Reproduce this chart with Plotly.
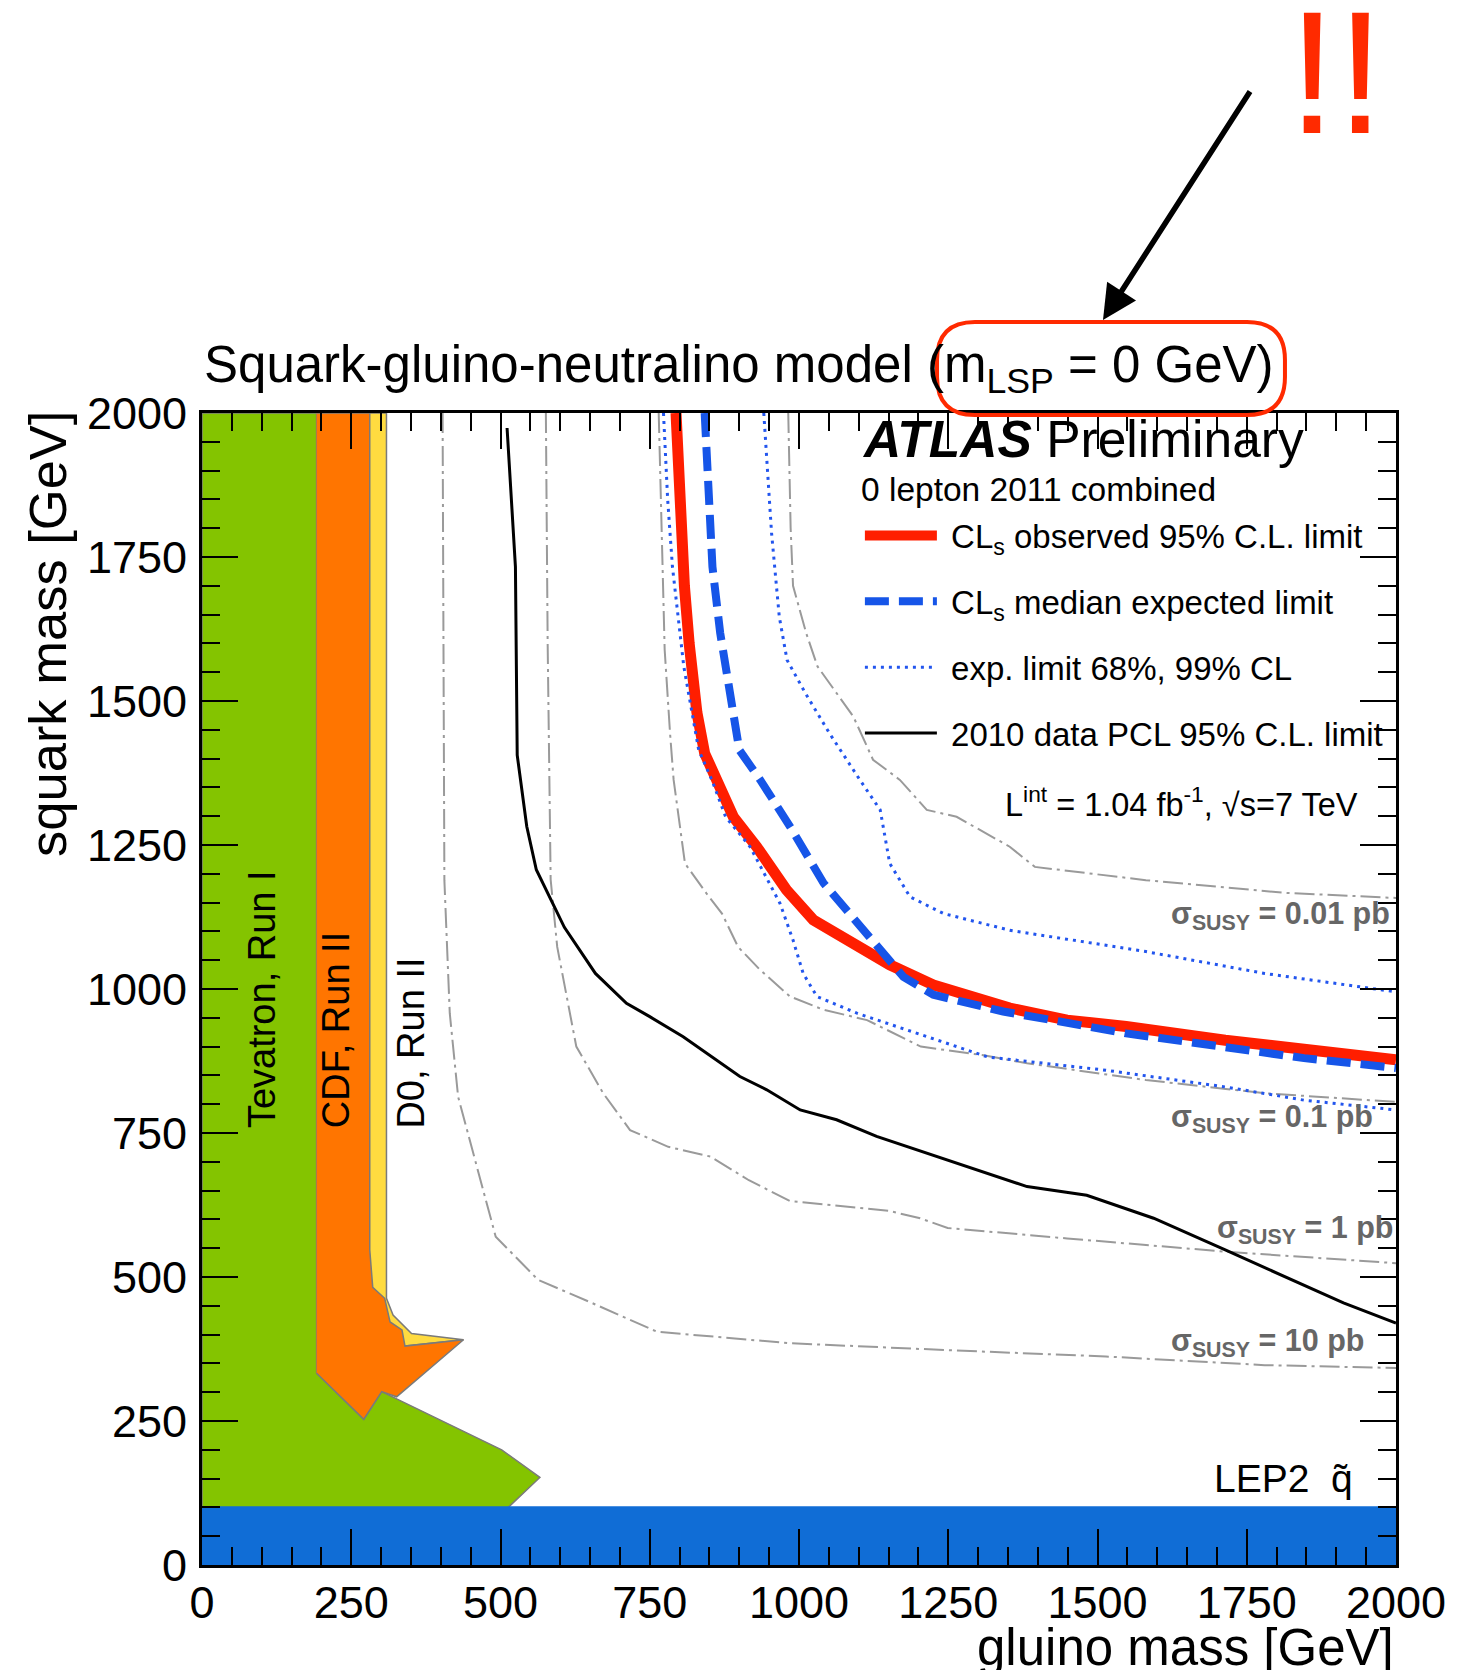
import plotly.graph_objects as go

FONT = "Liberation Sans, Arial, Helvetica, sans-serif"

# ---------------- data (gluino mass, squark mass) in GeV ----------------
obs_g = [794, 800, 808, 816, 829, 842, 862, 890, 929, 979, 1024, 1107, 1152, 1225, 1353, 1449, 1548, 1714, 1846, 2000]
obs_q = [2000, 1850, 1700, 1600, 1480, 1409, 1363, 1299, 1247, 1172, 1120, 1068, 1042, 1007, 967, 946, 935, 911, 894, 877]

exp_g = [842, 848, 855, 868, 885, 900, 935, 985, 1041, 1085, 1141, 1175, 1225, 1342, 1548, 1714, 1846, 2000]
exp_q = [2000, 1880, 1733, 1618, 1500, 1415, 1363, 1282, 1184, 1131, 1062, 1021, 990, 961, 923, 898, 880, 863]

exp_lo_g = [773, 780, 788, 807, 832, 854, 877, 918, 968, 990, 1007, 1030, 1097, 1197, 1316, 1514, 1714, 1846, 2000]
exp_lo_q = [2000, 1850, 1733, 1560, 1415, 1363, 1299, 1247, 1149, 1085, 1027, 987, 958, 923, 882, 859, 830, 807, 790]

exp_hi_g = [941, 947, 954, 967, 980, 1011, 1051, 1102, 1136, 1152, 1186, 1242, 1353, 1581, 1780, 2000]
exp_hi_q = [2000, 1900, 1792, 1646, 1571, 1513, 1444, 1363, 1311, 1218, 1160, 1131, 1102, 1065, 1027, 995]

pcl2010_g = [511, 518, 525, 528, 544, 560, 607, 659, 711, 750, 806, 901, 946, 1002, 1063, 1130, 1249, 1382, 1482, 1594, 1714, 1912, 2000]
pcl2010_q = [1974, 1850, 1733, 1406, 1282, 1207, 1107, 1027, 975, 952, 917, 848, 825, 790, 773, 744, 703, 657, 642, 602, 547, 455, 420]

xs001_g = [982, 986, 990, 1012, 1031, 1091, 1124, 1169, 1214, 1264, 1353, 1395, 1581, 1813, 2000]
xs001_q = [2000, 1800, 1700, 1618, 1560, 1473, 1398, 1363, 1311, 1299, 1247, 1212, 1189, 1167, 1158]

xs01_g = [765, 770, 775, 784, 790, 809, 845, 871, 898, 935, 985, 1041, 1114, 1204, 1309, 1382, 1581, 1780, 2000]
xs01_q = [2000, 1800, 1589, 1444, 1363, 1218, 1166, 1131, 1073, 1033, 987, 964, 946, 900, 885, 871, 842, 819, 804]

xs1_g = [576, 579, 584, 595, 627, 672, 717, 781, 852, 916, 985, 1150, 1203, 1249, 1449, 1714, 2000]
xs1_q = [2000, 1600, 1190, 1073, 900, 819, 755, 726, 709, 668, 632, 615, 602, 585, 567, 544, 524]

xs10_g = [403, 405, 406, 415, 429, 474, 492, 563, 653, 762, 985, 1249, 1514, 1780, 2000]
xs10_q = [2000, 1600, 1189, 958, 813, 639, 570, 495, 455, 405, 385, 373, 362, 347, 342]

tev1_g = [0, 0, 192, 192, 271, 301, 502, 566, 513]
tev1_q = [100, 2000, 2000, 333, 253, 301, 200, 152, 100]

d0_g = [281, 309, 309, 320, 351, 438, 340, 281]
d0_q = [2000, 2000, 463, 434, 402, 391, 380, 400]

cdf_g = [192, 281, 281, 286, 306, 315, 335, 340, 438, 326, 301, 271, 192]
cdf_q = [2000, 2000, 547, 482, 463, 422, 408, 380, 391, 292, 301, 253, 333]

lep2_g = [0, 2000, 2000, 0]
lep2_q = [0, 0, 102, 102]

tick_vals = [0, 250, 500, 750, 1000, 1250, 1500, 1750, 2000]
tick_text = [str(v) for v in tick_vals]

GREY_DASHDOT = "20px,5px,3px,5px"
NB = "\u00a0"

fig = go.Figure()

# exclusion regions
fig.add_trace(go.Scatter(x=tev1_g, y=tev1_q, fill="toself", fillcolor="#84c400",
                         mode="lines", line=dict(color="#7a7a7a", width=1.5),
                         showlegend=False, hoverinfo="skip"))
fig.add_trace(go.Scatter(x=d0_g, y=d0_q, fill="toself", fillcolor="#ffdb40",
                         mode="lines", line=dict(color="#7a7a7a", width=1.5),
                         showlegend=False, hoverinfo="skip"))
fig.add_trace(go.Scatter(x=cdf_g, y=cdf_q, fill="toself", fillcolor="#ff7500",
                         mode="lines", line=dict(color="#7a7a7a", width=1.5),
                         showlegend=False, hoverinfo="skip"))
fig.add_trace(go.Scatter(x=lep2_g, y=lep2_q, fill="toself", fillcolor="#106dd6",
                         mode="lines", line=dict(color="#106dd6", width=0),
                         showlegend=False, hoverinfo="skip"))

# cross-section contours
for gx, qy in [(xs10_g, xs10_q), (xs1_g, xs1_q), (xs01_g, xs01_q), (xs001_g, xs001_q)]:
    fig.add_trace(go.Scatter(x=gx, y=qy, mode="lines",
                             line=dict(color="#9a9a9a", width=2, dash=GREY_DASHDOT),
                             showlegend=False, hoverinfo="skip"))

# limits
fig.add_trace(go.Scatter(x=exp_hi_g, y=exp_hi_q, mode="lines", legendgroup="c",
                         line=dict(color="#2255ee", width=3, dash="3px,5px"),
                         showlegend=False))
fig.add_trace(go.Scatter(x=obs_g, y=obs_q, mode="lines", legendgroup="a",
                         line=dict(color="#ff1e00", width=11),
                         name=NB + "CL<sub>s</sub> observed 95% C.L. limit"))
fig.add_trace(go.Scatter(x=exp_g, y=exp_q, mode="lines", legendgroup="b",
                         line=dict(color="#1655e8", width=8, dash="24px,10px"),
                         name=NB + "CL<sub>s</sub> median expected limit"))
fig.add_trace(go.Scatter(x=exp_lo_g, y=exp_lo_q, mode="lines", legendgroup="c",
                         line=dict(color="#2255ee", width=3, dash="3px,5px"),
                         name=NB + "exp. limit 68%, 99% CL"))
fig.add_trace(go.Scatter(x=pcl2010_g, y=pcl2010_q, mode="lines", legendgroup="d",
                         line=dict(color="black", width=3),
                         name=NB + "2010 data PCL 95% C.L. limit"))

def axis(standoff):
    return dict(
        range=[0, 2000], tickvals=tick_vals, ticktext=tick_text,
        ticks="inside", ticklen=36, tickwidth=2, tickcolor="black",
        minor=dict(ticks="inside", ticklen=18, tickwidth=2, tickcolor="black", dtick=50),
        showline=True, linecolor="black", linewidth=3, mirror="ticks",
        showgrid=False, zeroline=False, layer="above traces",
        ticklabelstandoff=standoff,
        tickfont=dict(family=FONT, size=45, color="black"),
    )

fig.update_layout(
    width=1475, height=1670,
    margin=dict(l=202, r=79, t=413, b=105),
    paper_bgcolor="white", plot_bgcolor="white",
    font=dict(family=FONT, color="black"),
    xaxis=axis(-4),
    yaxis=axis(3),
    legend=dict(x=0.551, y=0.918, xanchor="left", yanchor="top",
                bgcolor="rgba(0,0,0,0)", borderwidth=0,
                font=dict(family=FONT, size=33, color="black"),
                itemwidth=72, tracegroupgap=20, traceorder="grouped"),
)

ann = []
# title
ann.append(dict(xref="paper", yref="paper", x=0.0, y=1.0087, xanchor="left", yanchor="bottom",
                text="Squark-gluino-neutralino model (m<sub>LSP</sub> = 0 GeV)",
                showarrow=False, font=dict(family=FONT, size=51, color="black")))
# axis titles
ann.append(dict(xref="paper", yref="paper", x=1.0, y=-0.072, xanchor="right", yanchor="middle",
                text="gluino mass [GeV]", showarrow=False,
                font=dict(family=FONT, size=51, color="black")))
ann.append(dict(xref="paper", yref="paper", x=-0.130, y=0.808, xanchor="center", yanchor="middle",
                text="squark mass [GeV]", textangle=-90, showarrow=False,
                font=dict(family=FONT, size=52.5, color="black")))
# ATLAS labels
ann.append(dict(xref="paper", yref="paper", x=0.551, y=0.9774, xanchor="left", yanchor="middle",
                text="<b><i>ATLAS</i></b> Preliminary", showarrow=False,
                font=dict(family=FONT, size=51.5, color="black")))
ann.append(dict(xref="paper", yref="paper", x=0.550, y=0.9335, xanchor="left", yanchor="middle",
                text="0 lepton 2011 combined", showarrow=False,
                font=dict(family=FONT, size=33.5, color="black")))
ann.append(dict(xref="paper", yref="paper", x=0.9698, y=0.6624, xanchor="right", yanchor="middle",
                text="L<sup>int</sup> = 1.04 fb<sup>-1</sup>, \u221as=7 TeV", showarrow=False,
                font=dict(family=FONT, size=32.5, color="black")))
# cross-section labels
for xv, yv, t in [(1619, 1128, "0.01 pb"), (1619, 776, "0.1 pb"), (1697, 582, "1 pb"), (1619, 387, "10 pb")]:
    ann.append(dict(x=xv, y=yv, xanchor="left", yanchor="middle",
                    text="<b>\u03c3<sub>SUSY</sub> = " + t + "</b>", showarrow=False,
                    font=dict(family=FONT, size=30.5, color="#666666")))
# experiment labels
for xv, t in [(100.5, "Tevatron, Run I"), (224.5, "CDF, Run II"), (350, "D0, Run II")]:
    ann.append(dict(x=xv, y=755, xanchor="center", yanchor="bottom", textangle=-90,
                    text=t, showarrow=False, font=dict(family=FONT, size=38, color="black")))
ann.append(dict(x=1931, y=151, xanchor="right", yanchor="middle",
                text="LEP2  q\u0303", showarrow=False,
                font=dict(family=FONT, size=39, color="black")))
# arrow and exclamation marks
ann.append(dict(xref="paper", yref="paper", x=0.7546, y=1.0807, text="",
                showarrow=True, ax=148, ay=-230, arrowhead=2, arrowsize=1.25,
                arrowwidth=5.5, arrowcolor="black", standoff=0))
ann.append(dict(xref="paper", yref="paper", x=(1336 - 202) / 1194, y=1.2955,
                xanchor="center", yanchor="middle", text="!!", showarrow=False,
                font=dict(family=FONT, size=174, color="#ff2a00")))
fig.update_layout(annotations=ann)

# rounded highlight box around (m_LSP = 0 GeV)
L, R, T, B = 0.6156, 0.9070, 1.0790, 0.9983
rx, ry = 0.0318, 0.0330
path = (f"M {L+rx},{T} L {R-rx},{T} Q {R},{T} {R},{T-ry} L {R},{B+ry} Q {R},{B} {R-rx},{B} "
        f"L {L+rx},{B} Q {L},{B} {L},{B+ry} L {L},{T-ry} Q {L},{T} {L+rx},{T} Z")
fig.add_shape(type="path", xref="paper", yref="paper", path=path,
              line=dict(color="#ff2a00", width=4), layer="above")

fig.write_html("out.html")
